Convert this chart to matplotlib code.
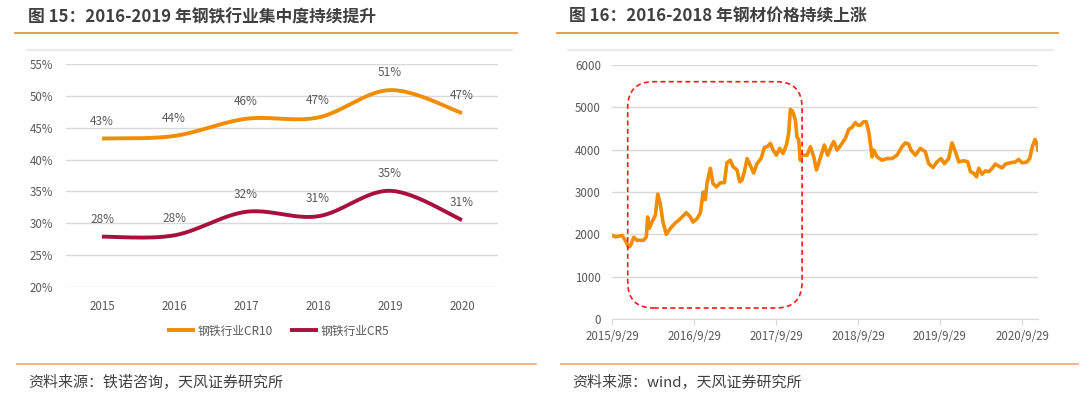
import matplotlib
matplotlib.use('Agg')
import matplotlib.pyplot as plt
import matplotlib.dates as mdates
from matplotlib.patches import FancyBboxPatch
from matplotlib.lines import Line2D
import numpy as np

plt.rcParams['font.family'] = ['Noto Sans CJK SC', 'DejaVu Sans']

# ---- left chart data ----
years = ['2015', '2016', '2017', '2018', '2019', '2020']
cr10 = [43.3, 43.7, 46.4, 46.6, 50.9, 47.3]
cr5 = [27.9, 28.1, 31.8, 31.1, 35.1, 30.5]
cr10_labels = ['43%', '44%', '46%', '47%', '51%', '47%']
cr5_labels = ['28%', '28%', '32%', '31%', '35%', '31%']

# ---- right chart data (steel price index) ----
price_dates = [
    '2015-09-29', '2015-10-14', '2015-10-29', '2015-11-13', '2015-11-27', '2015-12-12',
    '2015-12-20', '2016-01-04', '2016-01-18', '2016-02-17', '2016-02-29', '2016-03-06',
    '2016-03-13', '2016-03-25', '2016-04-09', '2016-04-20', '2016-05-01', '2016-05-13',
    '2016-05-28', '2016-06-15', '2016-07-07', '2016-07-22', '2016-08-06', '2016-08-25',
    '2016-09-12', '2016-09-24', '2016-10-12', '2016-10-27', '2016-11-08', '2016-11-18',
    '2016-11-25', '2016-12-10', '2016-12-22', '2017-01-06', '2017-01-24', '2017-02-11',
    '2017-02-22', '2017-03-09', '2017-03-21', '2017-04-08', '2017-04-20', '2017-04-30',
    '2017-05-11', '2017-05-23', '2017-06-06', '2017-06-21', '2017-07-06', '2017-07-24',
    '2017-08-08', '2017-08-20', '2017-09-04', '2017-09-15', '2017-09-30', '2017-10-15',
    '2017-10-30', '2017-11-14', '2017-11-24', '2017-12-02', '2017-12-12', '2017-12-24',
    '2017-12-31', '2018-01-08', '2018-01-15', '2018-01-23', '2018-02-14', '2018-03-01',
    '2018-03-16', '2018-03-28', '2018-04-11', '2018-05-02', '2018-05-17', '2018-06-01',
    '2018-06-13', '2018-06-28', '2018-07-20', '2018-08-04', '2018-08-19', '2018-09-03',
    '2018-09-17', '2018-09-28', '2018-10-10', '2018-10-24', '2018-11-05', '2018-11-16',
    '2018-11-23', '2018-12-01', '2018-12-08', '2018-12-23', '2019-01-14', '2019-02-05',
    '2019-02-28', '2019-03-22', '2019-04-13', '2019-04-28', '2019-05-13', '2019-05-23',
    '2019-06-12', '2019-07-04', '2019-07-26', '2019-08-10', '2019-08-29', '2019-09-16',
    '2019-10-04', '2019-10-19', '2019-11-07', '2019-11-22', '2019-12-07', '2019-12-22',
    '2020-01-13', '2020-01-31', '2020-02-12', '2020-02-27', '2020-03-10', '2020-03-20',
    '2020-04-04', '2020-04-19', '2020-05-04', '2020-05-19', '2020-06-02', '2020-06-17',
    '2020-07-02', '2020-07-17', '2020-08-08', '2020-08-30', '2020-09-14', '2020-09-29',
    '2020-10-21', '2020-11-02', '2020-11-14', '2020-11-26', '2020-12-03', '2020-12-09',
]
price_values = [
    1980, 1940, 1955, 1975, 1860, 1700,
    1730, 1930, 1860, 1860, 1940, 2410,
    2140, 2290, 2450, 2950, 2730, 2290,
    2000, 2140, 2270, 2330, 2410, 2510,
    2410, 2290, 2370, 2510, 3000, 2820,
    3200, 3560, 3200, 3120, 3220, 3220,
    3690, 3750, 3600, 3520, 3240, 3280,
    3480, 3790, 3630, 3450, 3670, 3790,
    4050, 4070, 4150, 4000, 3870, 4030,
    3910, 4110, 4380, 4950, 4900, 4700,
    4300, 4230, 3750, 3870, 3870, 4070,
    3830, 3520, 3750, 4110, 3870, 4070,
    4190, 3990, 4150, 4270, 4480, 4530,
    4640, 4580, 4580, 4660, 4660, 4420,
    4150, 3830, 3990, 3830, 3750, 3790,
    3790, 3870, 4070, 4160, 4130, 3990,
    3870, 4030, 3950, 3670, 3580, 3710,
    3790, 3670, 3790, 4160, 3950, 3710,
    3740, 3710, 3480, 3440, 3360, 3560,
    3420, 3500, 3480, 3560, 3660, 3610,
    3570, 3660, 3690, 3710, 3770, 3690,
    3710, 3790, 4080, 4240, 4150, 3990,
]
tick_dates = ['2015-09-29', '2016-09-29', '2017-09-29', '2018-09-29', '2019-09-29', '2020-09-29']
tick_labels = ['2015/9/29', '2016/9/29', '2017/9/29', '2018/9/29', '2019/9/29', '2020/9/29']

ORANGE = '#F28C00'
CRIMSON = '#A8103E'
GRID = '#D9D9D9'
TXT = '#595959'


def excel_smooth(x, y, n=40):
    # Bezier smoothing like Excel's "smoothed line"
    x = np.asarray(x, float)
    y = np.asarray(y, float)
    px = np.concatenate([[x[0]], x, [x[-1]]])
    py = np.concatenate([[y[0]], y, [y[-1]]])
    xs, ys = [], []
    t = np.linspace(0, 1, n)
    for i in range(1, len(px) - 2):
        p0 = np.array([px[i], py[i]])
        p3 = np.array([px[i + 1], py[i + 1]])
        c1 = p0 + (np.array([px[i + 1], py[i + 1]]) - np.array([px[i - 1], py[i - 1]])) / 6
        c2 = p3 - (np.array([px[i + 2], py[i + 2]]) - np.array([px[i], py[i]])) / 6
        b = ((1 - t) ** 3)[:, None] * p0 + (3 * (1 - t) ** 2 * t)[:, None] * c1 \
            + (3 * (1 - t) * t ** 2)[:, None] * c2 + (t ** 3)[:, None] * p3
        xs.append(b[:, 0])
        ys.append(b[:, 1])
    return np.concatenate(xs), np.concatenate(ys)


fig = plt.figure(figsize=(10.8, 3.96), dpi=100)
W, H = 1080, 396


def fx(px):
    return px / W


def fy(py):
    return 1 - py / H


# ---- headers / footers ----
fig.text(fx(28), fy(17), '图 15：2016-2019 年钢铁行业集中度持续提升', fontsize=12.1,
         fontweight='bold', color='#404040', va='center', ha='left')
fig.text(fx(569), fy(17), '图 16：2016-2018 年钢材价格持续上涨', fontsize=12.1,
         fontweight='bold', color='#404040', va='center', ha='left')
for x0, x1 in [(15, 517), (557, 1058)]:
    fig.add_artist(Line2D([fx(x0), fx(x1)], [fy(33), fy(33)], color='#E8913A', lw=1.3))
for x0, x1 in [(27, 512), (568, 1053)]:
    fig.add_artist(Line2D([fx(x0), fx(x1)], [fy(50), fy(50)], color='#EBEBEB', lw=1.5))
for x0, x1 in [(17, 536), (561, 1078)]:
    fig.add_artist(Line2D([fx(x0), fx(x1)], [fy(364), fy(364)], color='#F2A86E', lw=1.2))
fig.text(fx(28), fy(383), '资料来源：铁诺咨询，天风证券研究所', fontsize=10.8,
         color='#404040', va='center', ha='left')
fig.text(fx(572), fy(383), '资料来源：wind，天风证券研究所', fontsize=10.8,
         color='#404040', va='center', ha='left')

# ---- left chart ----
ax1 = fig.add_axes([fx(66), fy(287), fx(498 - 66), (287 - 64) / H])
xi = np.arange(len(years))
sx, sy = excel_smooth(xi, cr10)
ax1.plot(sx, sy, color=ORANGE, lw=2.8, solid_capstyle='butt', label='钢铁行业CR10')
sx, sy = excel_smooth(xi, cr5)
ax1.plot(sx, sy, color=CRIMSON, lw=2.8, solid_capstyle='butt', label='钢铁行业CR5')
for i in xi:
    ax1.annotate(cr10_labels[i], (i, cr10[i]), xytext=(0, 12.5), textcoords='offset points',
                 ha='center', va='center', fontsize=8.5, color=TXT)
    ax1.annotate(cr5_labels[i], (i, cr5[i]), xytext=(0, 12.5), textcoords='offset points',
                 ha='center', va='center', fontsize=8.5, color=TXT)
ax1.set_xlim(-0.5, len(years) - 0.5)
ax1.set_ylim(20, 55)
ax1.set_yticks(np.arange(20, 56, 5))
ax1.set_yticklabels([f'{v}%' for v in range(20, 56, 5)])
ax1.set_xticks(xi)
ax1.set_xticklabels(years)
ax1.grid(axis='y', color=GRID, lw=1)
ax1.set_axisbelow(True)
for s in ax1.spines.values():
    s.set_visible(False)
ax1.tick_params(length=0, labelsize=8.3, labelcolor=TXT)
ax1.tick_params(axis='x', pad=9)
ax1.tick_params(axis='y', pad=9)
fig.legend(*ax1.get_legend_handles_labels(), loc='center', bbox_to_anchor=(fx(278), fy(331)),
           ncol=2, frameon=False, fontsize=8.5, handlelength=2.4, columnspacing=1.4,
           handletextpad=0.2, labelcolor=TXT)

# ---- right chart ----
ax2 = fig.add_axes([fx(612), fy(319), fx(1038 - 612), (319 - 65) / H])
d = np.array(price_dates, dtype='datetime64[D]')
ax2.plot(d, price_values, color=ORANGE, lw=2.6, solid_joinstyle='round')
ax2.set_xlim(d[0], d[-1])
ax2.set_ylim(0, 6000)
ax2.set_yticks(np.arange(0, 6001, 1000))
ax2.set_xticks(np.array(tick_dates, dtype='datetime64[D]'))
ax2.set_xticklabels(tick_labels)
ax2.grid(axis='y', color=GRID, lw=1)
ax2.set_axisbelow(True)
for k in ['top', 'right', 'left']:
    ax2.spines[k].set_visible(False)
ax2.spines['bottom'].set_color(GRID)
ax2.tick_params(axis='y', length=0, pad=8, labelsize=8.3, labelcolor=TXT)
ax2.tick_params(axis='x', length=4, color=GRID, pad=4, labelsize=8.3, labelcolor=TXT)

# dashed rounded box highlighting 2016-2018
fig.canvas.draw()
to_in = ax2.transData + fig.dpi_scale_trans.inverted()
(x0, y0) = to_in.transform((mdates.date2num(np.datetime64('2015-12-08')), 260))
(x1, y1) = to_in.transform((mdates.date2num(np.datetime64('2018-01-23')), 5606))
box = FancyBboxPatch((x0, y0), x1 - x0, y1 - y0,
                     boxstyle='round,pad=0,rounding_size=0.26',
                     transform=fig.dpi_scale_trans, fill=False,
                     edgecolor='#FF1A1A', lw=1.2, linestyle=(0, (3, 2)), zorder=5)
fig.add_artist(box)

fig.savefig('out.png', dpi=100)
